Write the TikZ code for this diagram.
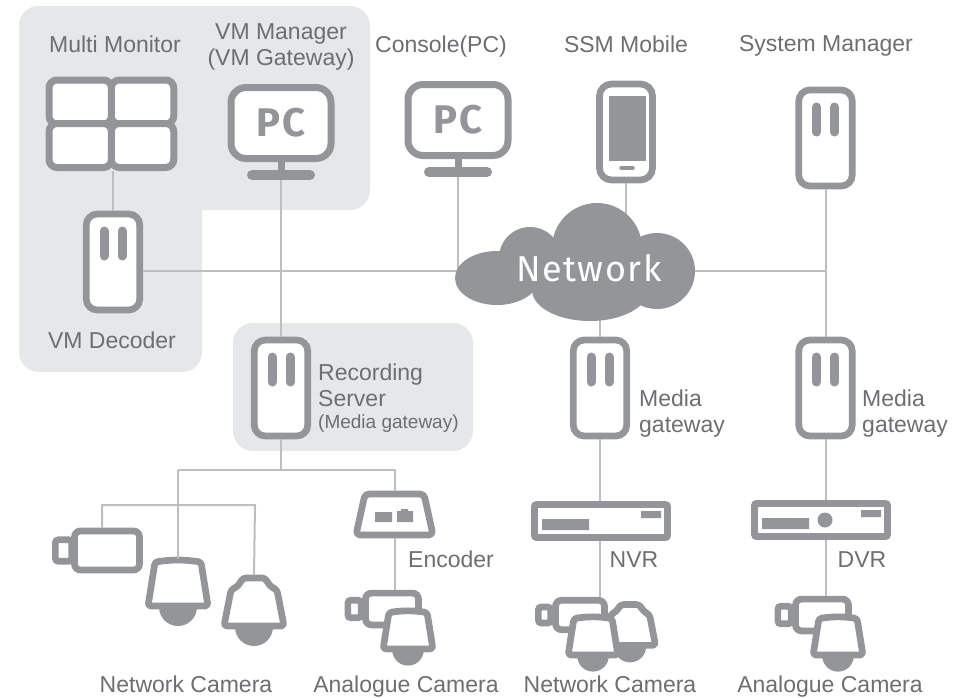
\documentclass[tikz,border=0pt]{standalone}
\usepackage{fontspec}
\setmainfont{Liberation Sans}
\newfontfamily\iconfont[LetterSpace=4]{Fira Sans}
\usepackage{tikz}
\definecolor{icongray}{HTML}{939598}
\definecolor{wiregray}{HTML}{BCBEC0}
\definecolor{panelgray}{HTML}{E6E7E8}
\definecolor{textgray}{HTML}{6D6E71}
\tikzset{
  iconbox/.style={draw=icongray,line width=6.7pt,fill=white,inner sep=0pt,rounded corners=11pt},
  monbox/.style={iconbox,line width=7pt,rounded corners=8pt,minimum width=62.5pt,minimum height=44pt},
  wire/.style={draw=wiregray,line width=2pt},
  panel/.style={fill=panelgray,rounded corners=20pt},
  lbl/.style={text=textgray,inner sep=0pt,anchor=base,font=\fontsize{23}{26}\selectfont},
  lblblock/.style={text=textgray,inner sep=0pt,anchor=west,align=left,font=\fontsize{23}{26}\selectfont},
  gateway/.pic={
    \node (-box) at (0,0) [iconbox,minimum width=53.5pt,minimum height=96pt] {};
    \draw [icongray,line width=9pt,line cap=round] (-9,-31) -- (-9,-6) (9,-31) -- (9,-6);
  },
  pcicon/.pic={
    \draw [icongray,line width=7pt] (0,39) -- (0,50);
    \draw [icongray,line width=10pt,line cap=round] (-29,52) -- (29,52);
    \coordinate (-base) at (0,57);
    \node at (0,0) [iconbox,line width=7pt,minimum width=100pt,minimum height=71pt,rounded corners=15pt,
      font=\iconfont\fontsize{40}{40}\bfseries,text=icongray] {PC};
  },
  pics/bulletcam/.style={code={
    \node (-lens) at ({-#1/2-11},0) [iconbox,rounded corners=3pt,minimum width=.25*#1pt,minimum height=.33*#1pt] {};
    \node (-box) at (0,0) [iconbox,rounded corners=6pt,minimum width=#1pt,minimum height=.6*#1pt] {};
  }},
  domecam/.pic={
    \fill [icongray] (-19,48) arc (180:0:19);
    \draw [iconbox,line join=round,rounded corners=3pt] (-23,3) to [bend left=8] (23,3) -- (30,47) -- (-30,47) -- cycle;
    \coordinate (-top) at (0,0);
  },
  ptzcam/.pic={
    \fill [icongray] (-19,52) arc (180:0:19);
    \draw [iconbox,line join=round,rounded corners=3pt] (-11,3) -- (11,3) -- (16,11) -- (23,15) -- (30,51) -- (-30,51) -- (-23,15) -- (-16,11) -- cycle;
    \coordinate (-top) at (0,0);
  },
}
\begin{document}
\begin{tikzpicture}[x=1pt,y=-1pt]
\useasboundingbox (0,0) rectangle (963,697);
% grey panels
\fill [panel] (19,6) rectangle (370,210);
\fill [panel] (19,6) rectangle (202,372);
\fill [panel] (233,323) rectangle (473,451);
% multi monitor
\node (mon1) at (80.25,102) [monbox] {};
\node (mon2) at (142.5,102) [monbox] {};
\node (mon3) at (80.25,145.5) [monbox] {};
\node (mon4) at (142.5,145.5) [monbox] {};
\coordinate (monbottom) at (113,171);
% computers
\pic (vmpc) at (281,123) {pcicon};
\pic (console) at (458,120) {pcicon};
% phone
\node (phone) at (626,132) [iconbox,rounded corners=12pt,minimum width=53pt,minimum height=96pt] {};
\fill [icongray] (609,96) rectangle (646,161);
\draw [icongray,line width=3.5pt,line cap=round] (621,168) -- (633,168);
% gateways
\pic (sysman) at (825.5,138) {gateway};
\pic (decoder) at (113,262) {gateway};
\pic (recorder) at (281,388) {gateway};
\pic (media1) at (600,388) {gateway};
\pic (media2) at (825.5,388) {gateway};
% recorders
\node (nvr) at (601,521) [iconbox,rounded corners=2pt,minimum width=133pt,minimum height=33pt] {};
\fill [icongray] (542,519) rectangle (589,530) (641,511) rectangle (661,518);
\node (dvr) at (821,520) [iconbox,rounded corners=2pt,minimum width=133pt,minimum height=33pt] {};
\fill [icongray] (762,518) rectangle (809,529) (861,510) rectangle (881,517);
\fill [icongray] (825,520) circle (7.5);
% encoder
\draw [iconbox,line join=round,rounded corners=4pt] (365,494) -- (424,494) -- (433,535) -- (356,535) -- cycle;
\fill [icongray] (375,512) rectangle (392,522) (397,511) -- (401,511) -- (401,509) -- (408,509) -- (408,511) -- (413,511) -- (413,522) -- (397,522) -- cycle;
\coordinate (enctop) at (395,491);
\coordinate (encbottom) at (395,538);
% cameras left
\pic (bullet1) at (107,550.5) {bulletcam=65};
\pic (dome1) at (178,559) {domecam};
\pic (ptz1) at (254,575) {ptzcam};
\pic (bullet2) at (392,609) {bulletcam=53};
\pic (dome2) [scale=.83] at (408,610) {domecam};
% cameras right
\pic (ptz2) [scale=.85] at (630,602) {ptzcam};
\pic (bullet3) at (580,615) {bulletcam=49};
\pic (dome3) [scale=.83] at (593,616) {domecam};
\pic (bullet4) at (822,615) {bulletcam=53};
\pic (dome4) [scale=.83] at (838,616) {domecam};
% joins
\coordinate (recjoin) at (281,470);
\coordinate (domejoin) at (178,470);
\coordinate (enjoin) at (395,470);
\coordinate (bulletjoin) at (102,505);
\coordinate (ptzjoin) at (255,505);
\coordinate (consolejoin) at (458,271);
\coordinate (rightjoin) at (825.5,271);
\coordinate (netwest) at (480,271);
\coordinate (neteast) at (680,271);
\coordinate (netnorth) at (626,225);
\coordinate (netsouth) at (600,300);
% wires
\draw [wire] (monbottom) -- (decoder-box.north);
\draw [wire] (decoder-box.east |- netwest) -- (netwest);
\draw [wire] (vmpc-base) -- (recorder-box.north);
\draw [wire] (console-base) -- (consolejoin);
\draw [wire] (phone.south) -- (netnorth);
\draw [wire] (neteast) -- (rightjoin);
\draw [wire] (sysman-box.south) -- (media2-box.north);
\draw [wire] (netsouth) -- (media1-box.north);
\draw [wire] (media1-box.south) -- (nvr.north -| media1-box.south);
\draw [wire] (media2-box.south) -- (dvr.north -| media2-box.south);
\draw [wire] (nvr.south -| media1-box.south) -- (bullet3-box.north -| media1-box.south);
\draw [wire] (dvr.south -| media2-box.south) -- (bullet4-box.north -| media2-box.south);
\draw [wire] (recorder-box.south) -- (recjoin);
\draw [wire] (domejoin) -- (enjoin) -- (enctop);
\draw [wire] (domejoin) -- (dome1-top);
\draw [wire] (bullet1-box.north -| bulletjoin) -- (bulletjoin) -- (ptzjoin) -- (ptz1-top);
\draw [wire] (encbottom) -- (bullet2-box.north -| encbottom);
% network cloud
\fill [icongray] (497,278) ellipse (42 and 27);
\fill [icongray] (530,258) circle (31);
\fill [icongray] (597,248) circle (45);
\fill [icongray] (657,271) circle (38);
\fill [icongray] (590,290) ellipse (58 and 31);
\fill [icongray] (590,270) ellipse (70 and 30);
\node (net) at (589,268) [text=white,inner sep=0pt,font=\iconfont\fontsize{36}{36}\selectfont] {Network};
% labels
\node (lblmulti) at (115,52) [lbl] {Multi Monitor};
\node (lblvm) at (281,47) [lblblock,anchor=center,align=center] {VM Manager\\(VM Gateway)};
\node (lblconsole) at (441,52) [lbl] {Console(PC)};
\node (lblssm) at (626,52) [lbl] {SSM Mobile};
\node (lblsys) at (826,51) [lbl] {System Manager};
\node (lbldecoder) at (112,348) [lbl] {VM Decoder};
\node (lblrec) at (318,385.5) [lblblock] {Recording\\Server};
\node (lblrecsub) at (318,424) [lblblock,font=\fontsize{19}{22}\selectfont] {(Media gateway)};
\node (lblmedia1) at (639,414) [lblblock] {Media\\gateway};
\node (lblmedia2) at (862,414) [lblblock] {Media\\gateway};
\node (lblenc) at (408,567) [lbl,anchor=base west] {Encoder};
\node (lblnvr) at (634,567) [lbl] {NVR};
\node (lbldvr) at (862,567) [lbl] {DVR};
\node (lblcam1) at (186,692) [lbl] {Network Camera};
\node (lblcam2) at (406,692) [lbl] {Analogue Camera};
\node (lblcam3) at (610,692) [lbl] {Network Camera};
\node (lblcam4) at (830,692) [lbl] {Analogue Camera};
\end{tikzpicture}
\end{document}
